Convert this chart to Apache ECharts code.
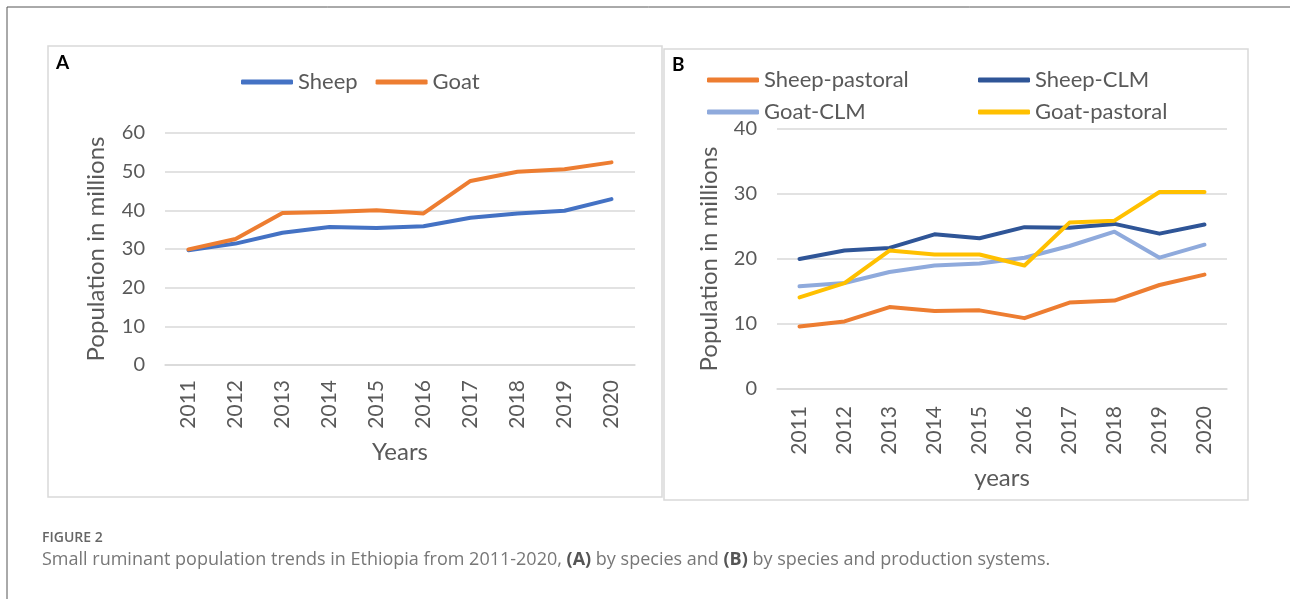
<!DOCTYPE html>
<html>
<head>
<meta charset="utf-8">
<script src="https://cdn.jsdelivr.net/npm/echarts@6/dist/echarts.min.js"></script>
<style>
  html, body { margin: 0; padding: 0; background: #fff; }
  #chart { width: 1290px; height: 599px; }
</style>
</head>
<body>
<div id="chart"></div>
<script>
// data (millions)
const years = ['2011', '2012', '2013', '2014', '2015', '2016', '2017', '2018', '2019', '2020'];

// panel A
const sheep = [29.7, 31.4, 34.2, 35.7, 35.4, 35.9, 38.1, 39.2, 39.9, 42.9];
const goat = [29.9, 32.6, 39.3, 39.6, 40.0, 39.2, 47.6, 50.0, 50.6, 52.4];

// panel B
const sheepPastoral = [9.6, 10.4, 12.6, 12.0, 12.1, 10.9, 13.3, 13.6, 16.0, 17.6];
const sheepCLM = [20.0, 21.3, 21.7, 23.8, 23.2, 24.9, 24.8, 25.4, 23.9, 25.3];
const goatCLM = [15.8, 16.3, 18.0, 19.0, 19.3, 20.2, 22.0, 24.2, 20.2, 22.2];
const goatPastoral = [14.1, 16.3, 21.3, 20.7, 20.7, 19.0, 25.6, 25.9, 30.3, 30.3];

const font = 'Lato';
const grey = '#595959';
const gridGrey = '#d9d9d9';

function xAxis(gridIndex, name, gap, margin) {
  return {
    type: 'category', gridIndex: gridIndex, data: years, boundaryGap: true,
    name: name, nameLocation: 'middle', nameGap: gap,
    nameTextStyle: { fontFamily: font, fontSize: 24, color: grey },
    axisLine: { show: true, lineStyle: { color: gridGrey, width: 1.5 } },
    axisTick: { show: false },
    axisLabel: { interval: 0, rotate: 90, margin: margin, fontFamily: font, fontSize: 21, color: grey }
  };
}

function yAxis(gridIndex, max, gap) {
  return {
    type: 'value', gridIndex: gridIndex, min: 0, max: max, interval: 10,
    name: 'Population in millions', nameLocation: 'middle', nameGap: gap, nameRotate: 90,
    nameTextStyle: { fontFamily: font, fontSize: 24, color: grey },
    axisLine: { show: false }, axisTick: { show: false },
    axisLabel: { margin: 20, fontFamily: font, fontSize: 20, color: grey },
    splitLine: { lineStyle: { color: gridGrey, width: 1.5 } }
  };
}

function line(name, data, color, idx) {
  return {
    name: name, type: 'line', data: data, xAxisIndex: idx, yAxisIndex: idx,
    symbol: 'none', lineStyle: { color: color, width: 4, cap: 'round', join: 'round' },
    itemStyle: { color: color }, emphasis: { disabled: true }, z: 3
  };
}

const legendText = { fontFamily: font, fontSize: 22, color: grey };
const cap = { fontFamily: 'Open Sans', fontSize: 18, fontWeight: 'normal', color: '#777' };

const chart = echarts.init(document.getElementById('chart'), null, { renderer: 'canvas' });
chart.setOption({
  animation: false,
  backgroundColor: '#fff',
  grid: [
    { left: 165, top: 133, width: 470, height: 232, containLabel: false, outerBoundsMode: 'none' },
    { left: 777, top: 129, width: 450, height: 260, containLabel: false, outerBoundsMode: 'none' }
  ],
  xAxis: [xAxis(0, 'Years', 75, 15), xAxis(1, 'years', 77, 17)],
  yAxis: [yAxis(0, 60, 57), yAxis(1, 40, 56)],
  legend: [
    { data: ['Sheep', 'Goat'], left: 241, top: 71, padding: 0, itemGap: 18, itemWidth: 52, itemHeight: 5,
      icon: 'roundRect', textStyle: legendText },
    { data: ['Sheep-pastoral', 'Goat-CLM'], orient: 'vertical', left: 707, top: 69, padding: 0, itemGap: 10,
      itemWidth: 52, itemHeight: 5, icon: 'roundRect', textStyle: legendText },
    { data: ['Sheep-CLM', 'Goat-pastoral'], orient: 'vertical', left: 978, top: 69, padding: 0, itemGap: 10,
      itemWidth: 52, itemHeight: 5, icon: 'roundRect', textStyle: legendText }
  ],
  title: [
    { text: 'A', left: 56, top: 53, padding: 0, textStyle: { fontFamily: font, fontSize: 19, fontWeight: 'bold', color: '#000' } },
    { text: 'B', left: 672, top: 55, padding: 0, textStyle: { fontFamily: font, fontSize: 19, fontWeight: 'bold', color: '#000' } },
    { text: 'FIGURE 2', left: 42, top: 531, padding: 0, textStyle: { fontFamily: 'Open Sans', fontSize: 14, fontWeight: 600, color: '#666' } },
    {
      text: '{n|Small ruminant population trends in Ethiopia from 2011-2020, }{b|(A)}{n| by species and }{b|(B)}{n| by species and production systems.}',
      left: 42, top: 551, padding: 0,
      textStyle: {
        fontWeight: 'normal',
        rich: {
          n: cap,
          b: { fontFamily: 'Open Sans', fontSize: 18, color: '#555', fontWeight: 'bold' }
        }
      }
    }
  ],
  graphic: [
    { type: 'polyline', shape: { points: [[7, 599], [7, 7], [1290, 7]] }, style: { stroke: '#555', lineWidth: 1, fill: null }, silent: true },
    { type: 'rect', shape: { x: 48, y: 46, width: 614, height: 451 }, style: { stroke: '#d9d9d9', lineWidth: 1.5, fill: null }, silent: true, z: -1 },
    { type: 'rect', shape: { x: 664, y: 49, width: 584, height: 451 }, style: { stroke: '#d9d9d9', lineWidth: 1.5, fill: null }, silent: true, z: -1 }
  ],
  series: [
    line('Sheep', sheep, '#4472c4', 0),
    line('Goat', goat, '#ed7d31', 0),
    line('Sheep-pastoral', sheepPastoral, '#ed7d31', 1),
    line('Sheep-CLM', sheepCLM, '#2f5597', 1),
    line('Goat-CLM', goatCLM, '#8faadc', 1),
    line('Goat-pastoral', goatPastoral, '#ffc000', 1)
  ]
});
</script>
</body>
</html>
